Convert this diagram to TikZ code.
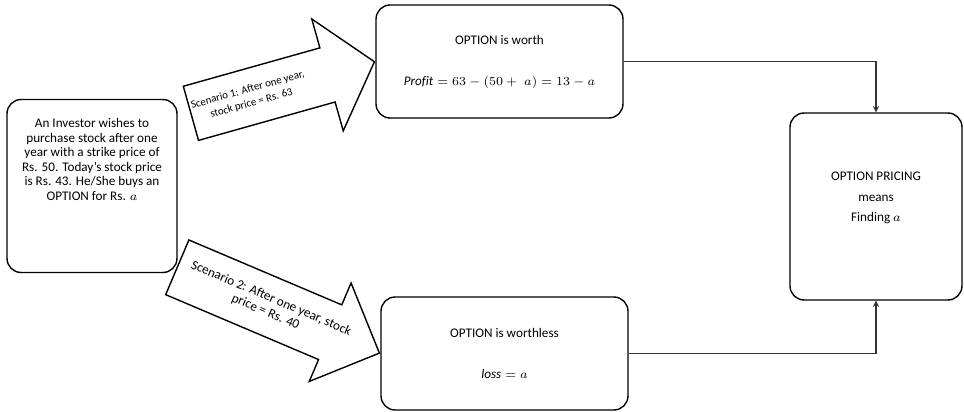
\documentclass[tikz,border=0pt]{standalone}
\usepackage{fontspec}
\setmainfont{Carlito}
\usepackage{amsmath}
\usetikzlibrary{shapes.arrows, arrows}

\begin{document}
\begin{tikzpicture}[
    x=0.02cm, y=-0.02cm,
    every node/.style={font=\fontsize{7.5}{8.3}\selectfont},
    box/.style={rectangle, rounded corners=8pt, text centered, align=center, draw=black, line width=0.8pt},
    scenario/.style={single arrow, draw=black, line width=0.8pt, inner xsep=1pt, anchor=tip},
    arrow/.style={->, >=stealth, line width=0.6pt, black!80}
]

\useasboundingbox (0,0) rectangle (964,412);

\node[box, minimum width=3.4cm, minimum height=3.46cm] (investor) at (92,186) {
    An Investor wishes to\\
    purchase stock after one\\
    year with a strike price of\\
    Rs. 50. Today’s stock price\\
    is Rs. 43. He/She buys an\\
    OPTION for Rs. $a$\\[22pt]
    \mbox{}
};

\node[box, minimum width=4.94cm, minimum height=2.26cm] (worth) at (499.5,61.5) {
    OPTION is worth\\[15pt]
    $\mathit{Profit}=63-(50+\;a)=13-a$
};

\node[box, minimum width=4.94cm, minimum height=2.26cm] (worthless) at (504.5,353.5) {
    OPTION is worthless\\[15pt]
    $\mathit{loss}=a$
};

\node[box, minimum width=3.44cm, minimum height=3.74cm] (pricing) at (876,206.5) {
    OPTION PRICING\\[3.3pt]
    means\\[3.3pt]
    Finding $a$\\[2.5pt]
    \mbox{}
};

% the two scenarios
\node[scenario, font=\fontsize{6.2}{8}\selectfont, inner ysep=7.6pt,
      minimum height=3.74cm, minimum width=2.28cm, single arrow head extend=0.6cm,
      single arrow tip angle=100, rotate=15.7] (up) at (worth.west) {
    \begin{tabular}{@{}c@{}}
    Scenario 1: After one year,\\
    stock price = Rs. 63
    \end{tabular}\hspace{0.9cm}
};

\node[scenario, inner ysep=8pt,
      minimum width=2.14cm, single arrow head extend=0.47cm,
      single arrow tip angle=90, rotate=-23] (down) at (worthless.west) {
    \makebox[3.7cm][l]{\hspace{0.2cm}\begin{tabular}{@{}c@{}}
    Scenario 2: After one year, stock\\
    price = Rs. 40
    \end{tabular}}
};

\draw[arrow] (worth.east) -| (pricing.north);
\draw[arrow] (worthless.east) -| (pricing.south);

\end{tikzpicture}
\end{document}
